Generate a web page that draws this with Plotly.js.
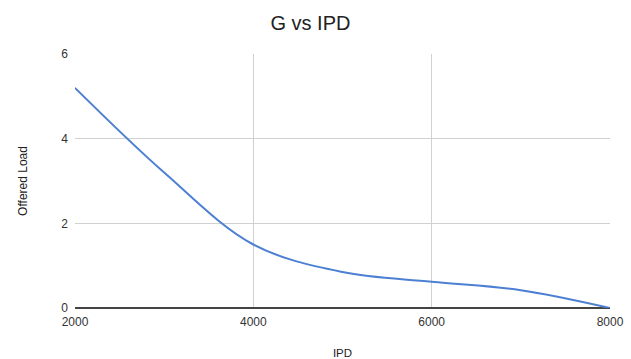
<!DOCTYPE html>
<html>
<head>
<meta charset="utf-8">
<script src="https://cdn.plot.ly/plotly-3.0.1.min.js"></script>
<style>html,body{margin:0;padding:0;background:#fff;}#chart{width:631px;height:359px;}</style>
</head>
<body>
<div id="chart"></div>
<script>
const ipd = [2000, 3000, 4000, 5000, 6000, 7000, 8000];
const offeredLoad = [5.2, 3.2, 1.5, 0.85, 0.62, 0.42, 0.0];
const xTicks = [2000, 4000, 6000, 8000];
const yTicks = [0, 2, 4, 6];

const trace = {
  x: ipd,
  y: offeredLoad,
  type: 'scatter',
  mode: 'lines',
  line: {shape: 'spline', smoothing: 1, color: '#4d80d2', width: 2},
  hoverinfo: 'skip'
};

const layout = {
  width: 631, height: 359,
  margin: {l: 75, r: 21, t: 54, b: 51},
  paper_bgcolor: '#fff', plot_bgcolor: '#fff',
  font: {family: 'Liberation Sans, Arial, sans-serif', color: '#222', size: 12},
  showlegend: false,
  title: {text: 'G vs IPD', x: 0.492, xanchor: 'center', y: 0.937, yanchor: 'middle',
          font: {size: 20, color: '#222'}},
  xaxis: {
    range: [2000, 8000], tickvals: xTicks, ticktext: xTicks.map(String),
    showgrid: true, gridcolor: '#d0d0d0', gridwidth: 1,
    zeroline: false, showline: false, ticks: '', ticklabelstandoff: 5,
    tickfont: {size: 12, color: '#333'},
    title: {text: 'IPD', font: {size: 11.5, color: '#222'}, standoff: 21},
    automargin: false, fixedrange: true
  },
  yaxis: {
    range: [0, 6], tickvals: yTicks, ticktext: yTicks.map(String),
    showgrid: true, gridcolor: '#d0d0d0', gridwidth: 1,
    zeroline: true, zerolinecolor: '#444', zerolinewidth: 1.5,
    showline: false, ticks: '', ticklabelstandoff: 6,
    tickfont: {size: 12, color: '#333'},
    title: {text: 'Offered Load', font: {size: 12, color: '#222'}, standoff: 31},
    automargin: false, fixedrange: true
  }
};

Plotly.newPlot('chart', [trace], layout, {displayModeBar: false, staticPlot: true});
</script>
</body>
</html>
